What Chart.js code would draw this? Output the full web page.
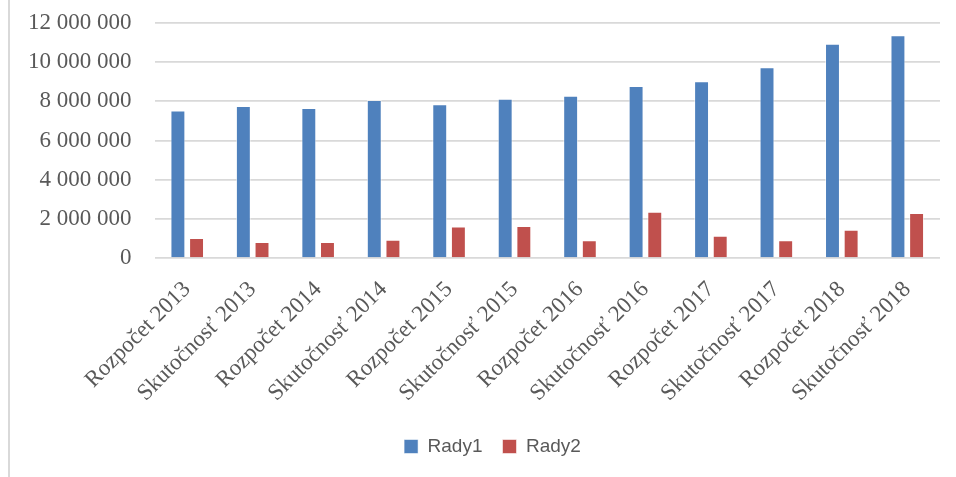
<!DOCTYPE html>
<html>
<head>
<meta charset="utf-8">
<script src="https://cdn.jsdelivr.net/npm/chart.js@4/dist/chart.umd.min.js"></script>
<style>
  html, body { margin: 0; padding: 0; background: #fff; overflow: hidden; }
  #frame { position: absolute; left: 8px; top: 0; width: 2px; height: 477px; background: #d9d9d9; }
  #wrap { position: absolute; left: 5px; top: 0; width: 977px; height: 477px; }
</style>
</head>
<body>
<div id="frame"></div>
<div id="wrap"><canvas id="c" width="977" height="477"></canvas></div>
<script>
const categories = [
  "Rozpočet 2013", "Skutočnosť 2013", "Rozpočet 2014", "Skutočnosť 2014",
  "Rozpočet 2015", "Skutočnosť 2015", "Rozpočet 2016", "Skutočnosť 2016",
  "Rozpočet 2017", "Skutočnosť 2017", "Rozpočet 2018", "Skutočnosť 2018"
];
const rady1 = [7540000, 7760000, 7660000, 8070000, 7860000, 8140000, 8290000, 8790000, 9030000, 9740000, 10940000, 11380000];
const rady2 = [1030000, 820000, 820000, 940000, 1610000, 1640000, 920000, 2370000, 1140000, 910000, 1450000, 2310000];
const seriesNames = ["Rady1", "Rady2"];
const yTicks = { min: 0, max: 12000000, step: 2000000 };

function fmt(v) {
  return String(v).replace(/\B(?=(\d{3})+(?!\d))/g, ' ');
}

new Chart(document.getElementById('c'), {
  type: 'bar',
  data: {
    labels: categories,
    datasets: [
      { label: seriesNames[0], data: rady1, backgroundColor: '#4f81bd', borderColor: 'rgba(255,255,255,0.55)', borderWidth: 1 },
      { label: seriesNames[1], data: rady2, backgroundColor: '#c0504d', borderColor: 'rgba(255,255,255,0.55)', borderWidth: 1 }
    ]
  },
  options: {
    responsive: false,
    animation: false,
    devicePixelRatio: 1,
    layout: { padding: { left: 0, right: 2, top: 0, bottom: 11 } },
    datasets: { bar: { categoryPercentage: 0.57, barPercentage: 0.8 } },
    plugins: {
      tooltip: { enabled: false },
      legend: {
        position: 'bottom',
        labels: {
          color: '#595959',
          font: { family: "'Liberation Sans', Arial, sans-serif", size: 19 },
          boxWidth: 14,
          boxHeight: 14,
          padding: 20
        }
      }
    },
    scales: {
      x: {
        grid: { display: false, drawTicks: false },
        border: { display: false },
        afterFit: (s) => { s.paddingLeft = 0; s.paddingRight = 42; s.height = s.height - 8; },
        ticks: {
          color: '#595959',
          font: { family: "'Liberation Serif', 'Times New Roman', serif", size: 23 },
          maxRotation: 45,
          minRotation: 45,
          padding: 18,
          labelOffset: 0,
          autoSkip: false
        }
      },
      y: {
        min: yTicks.min,
        max: yTicks.max,
        grid: { color: '#d9d9d9', lineWidth: 1.8, drawTicks: false },
        border: { display: false },
        afterFit: (s) => { s.paddingTop = 23; s.paddingBottom = 0; },
        ticks: {
          stepSize: yTicks.step,
          color: '#595959',
          font: { family: "'Liberation Serif', 'Times New Roman', serif", size: 23 },
          padding: 23,
          callback: (v) => fmt(v)
        }
      }
    }
  }
});
</script>
</body>
</html>
